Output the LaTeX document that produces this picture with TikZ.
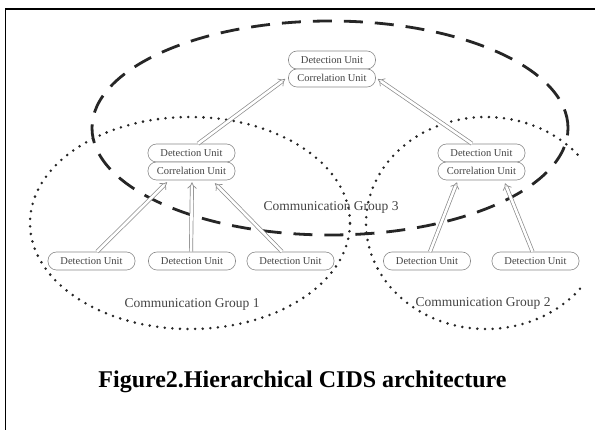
\documentclass[tikz,border=0pt]{standalone}
\usepackage{fontspec}
\setmainfont{Liberation Serif}
\usetikzlibrary{arrows.meta,calc}
\definecolor{unitgray}{HTML}{8A8A8A}
\definecolor{txtgray}{HTML}{444444}
\tikzset{
  unitbox/.style={draw=unitgray, line width=0.6pt, fill=white, rounded corners=8.5pt,
    minimum width=87pt, minimum height=18pt, inner sep=0pt, text=txtgray,
    font=\fontsize{10.5}{12}\selectfont},
  grouplabel/.style={text=txtgray, font=\fontsize{13.5}{15}\selectfont, inner sep=0pt},
  dotline/.style={line width=2.8pt, dash pattern=on 0pt off 7.6pt, line cap=round, draw=black!85},
  dashline/.style={line width=2.8pt, dash pattern=on 19pt off 12pt, draw=black!85},
  hollowarrow/.style={draw=unitgray, line width=0.7pt, double=white, double distance=2.6pt,
    -{Implies[length=5pt, width=11pt]}},
}
\begin{document}
\begin{tikzpicture}[x=1pt,y=-1pt]
\useasboundingbox (0,0) rectangle (595,430);
\fill[white] (0,0) rectangle (595,430);
% frame
\draw[line width=1.6pt] (5.5,431) -- (5.5,9) -- (596,9);

% communication groups
\begin{scope}
\clip (0,0) rectangle (581,430);
\draw[dashline] (330,128) ellipse [x radius=238pt, y radius=107pt];
\draw[dotline] (190,223) ellipse [x radius=160pt, y radius=106pt];
\draw[dotline] (486,223) ellipse [x radius=120pt, y radius=106pt];
\end{scope}

% nodes
\node[unitbox] (td) at (332,60) {Detection Unit};
\node[unitbox] (tc) at (332,78) {Correlation Unit};
\node[unitbox] (ld) at (191.5,153) {Detection Unit};
\node[unitbox] (lc) at (191.5,171) {Correlation Unit};
\node[unitbox] (rd) at (481.5,153) {Detection Unit};
\node[unitbox] (rc) at (481.5,171) {Correlation Unit};
\node[unitbox] (b1) at (91.5,261) {Detection Unit};
\node[unitbox] (b2) at (192,261) {Detection Unit};
\node[unitbox] (b3) at (290.5,261) {Detection Unit};
\node[unitbox] (b4) at (427,261) {Detection Unit};
\node[unitbox] (b5) at (535.5,261) {Detection Unit};

% arrows
\draw[hollowarrow] ($(b1.north)+(5.5,0)$) -- ($(lc.south)+(-24.5,2)$);
\draw[hollowarrow] ($(b2.north)+(-1,0)$) -- ($(lc.south)+(0.5,2)$);
\draw[hollowarrow] ($(b3.north)+(-8.5,0)$) -- ($(lc.south)+(23.5,3)$);
\draw[hollowarrow] ($(b4.north)+(3,0)$) -- ($(rc.south)+(-24.5,2)$);
\draw[hollowarrow] ($(b5.north)+(-3,0)$) -- ($(rc.south)+(23.5,3)$);
\draw[hollowarrow] ($(ld.north)+(6.5,0)$) -- ($(tc.west)+(-3,1)$);
\draw[hollowarrow] ($(rd.north)+(-9.5,0)$) -- ($(tc.east)+(2,1)$);

\node[grouplabel] (g3) at (331,207) {Communication Group 3};
\node[grouplabel] (g1) at (192,304) {Communication Group 1};
\node[grouplabel] (g2) at (483,303) {Communication Group 2};

\node[font=\bfseries\fontsize{24}{28}\selectfont, inner sep=0pt, anchor=base] (cap) at (302.5,388) {Figure2.Hierarchical CIDS architecture};
\end{tikzpicture}
\end{document}
